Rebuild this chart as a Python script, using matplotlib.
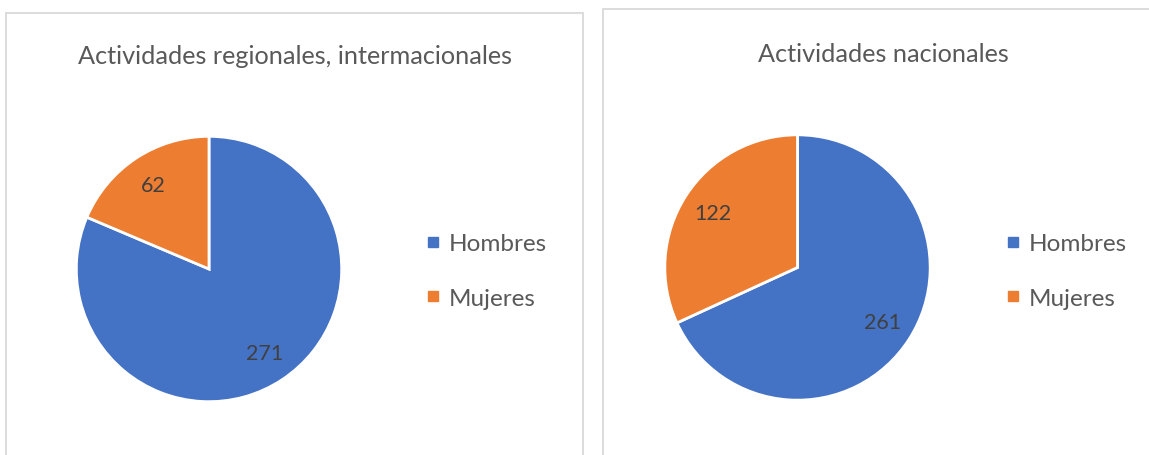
import matplotlib
matplotlib.use('Agg')
import matplotlib.pyplot as plt
from matplotlib.lines import Line2D
from matplotlib.patches import Rectangle

# data
categories = ['Hombres', 'Mujeres']
titles = ['Actividades regionales, intermacionales', 'Actividades nacionales']
regional = [271, 62]
nacional = [261, 122]
colors = ['#4472C4', '#ED7D31']

plt.rcParams['font.family'] = ['Lato', 'DejaVu Sans']

W, H = 1149, 456
fig = plt.figure(figsize=(W / 100, H / 100), dpi=100)


def px(x, y):
    # image pixel coords (y from top) -> figure fraction
    return x / W, 1 - y / H


# panel frames
for (x0, y0, x1) in [(6, 14, 583), (603, 10, 1160)]:
    fx, fy = px(x0, H + 5)
    fw = (x1 - x0) / W
    fh = (H + 5 - y0) / H
    fig.add_artist(Rectangle((fx, fy), fw, fh, transform=fig.transFigure,
                             fill=False, edgecolor='#D9D9D9', linewidth=1.3))

panels = [
    dict(vals=regional, title=titles[0], cx=209, cy=270, tx=295, ty=57, lx=426),
    dict(vals=nacional, title=titles[1], cx=797.5, cy=268.5, tx=883, ty=55, lx=1006),
]
r = 134

for p in panels:
    vals = p['vals']
    total = sum(vals)
    left, bottom = px(p['cx'] - r, p['cy'] + r)
    ax = fig.add_axes([left, bottom, 2 * r / W, 2 * r / H])
    wedges, texts, autotexts = ax.pie(
        vals, colors=colors, startangle=90, counterclock=False,
        autopct=lambda v, t=total: f'{round(v * t / 100)}', pctdistance=0.76,
        wedgeprops=dict(edgecolor='white', linewidth=2),
        textprops=dict(color='#404040', fontsize=15.5))
    ax.set_xlim(-1.01, 1.01)
    ax.set_ylim(-1.01, 1.01)
    ax.set_aspect('equal')
    ax.axis('off')

    tx, ty = px(p['tx'], p['ty'])
    fig.text(tx, ty, p['title'], ha='center', va='center', fontsize=18.2, color='#595959')

    handles = [Line2D([], [], linestyle='none', marker='s', markersize=7,
                      markerfacecolor=c, markeredgecolor=c) for c in colors]
    lx, ly = px(p['lx'], 272)
    fig.legend(handles, categories, loc='center left', bbox_to_anchor=(lx, ly),
               bbox_transform=fig.transFigure, frameon=False, fontsize=17.5,
               handlelength=0.6, handletextpad=0.33, labelspacing=1.36,
               borderpad=0, borderaxespad=0, labelcolor='#595959')

fig.savefig('out.png', dpi=100, facecolor='white')
